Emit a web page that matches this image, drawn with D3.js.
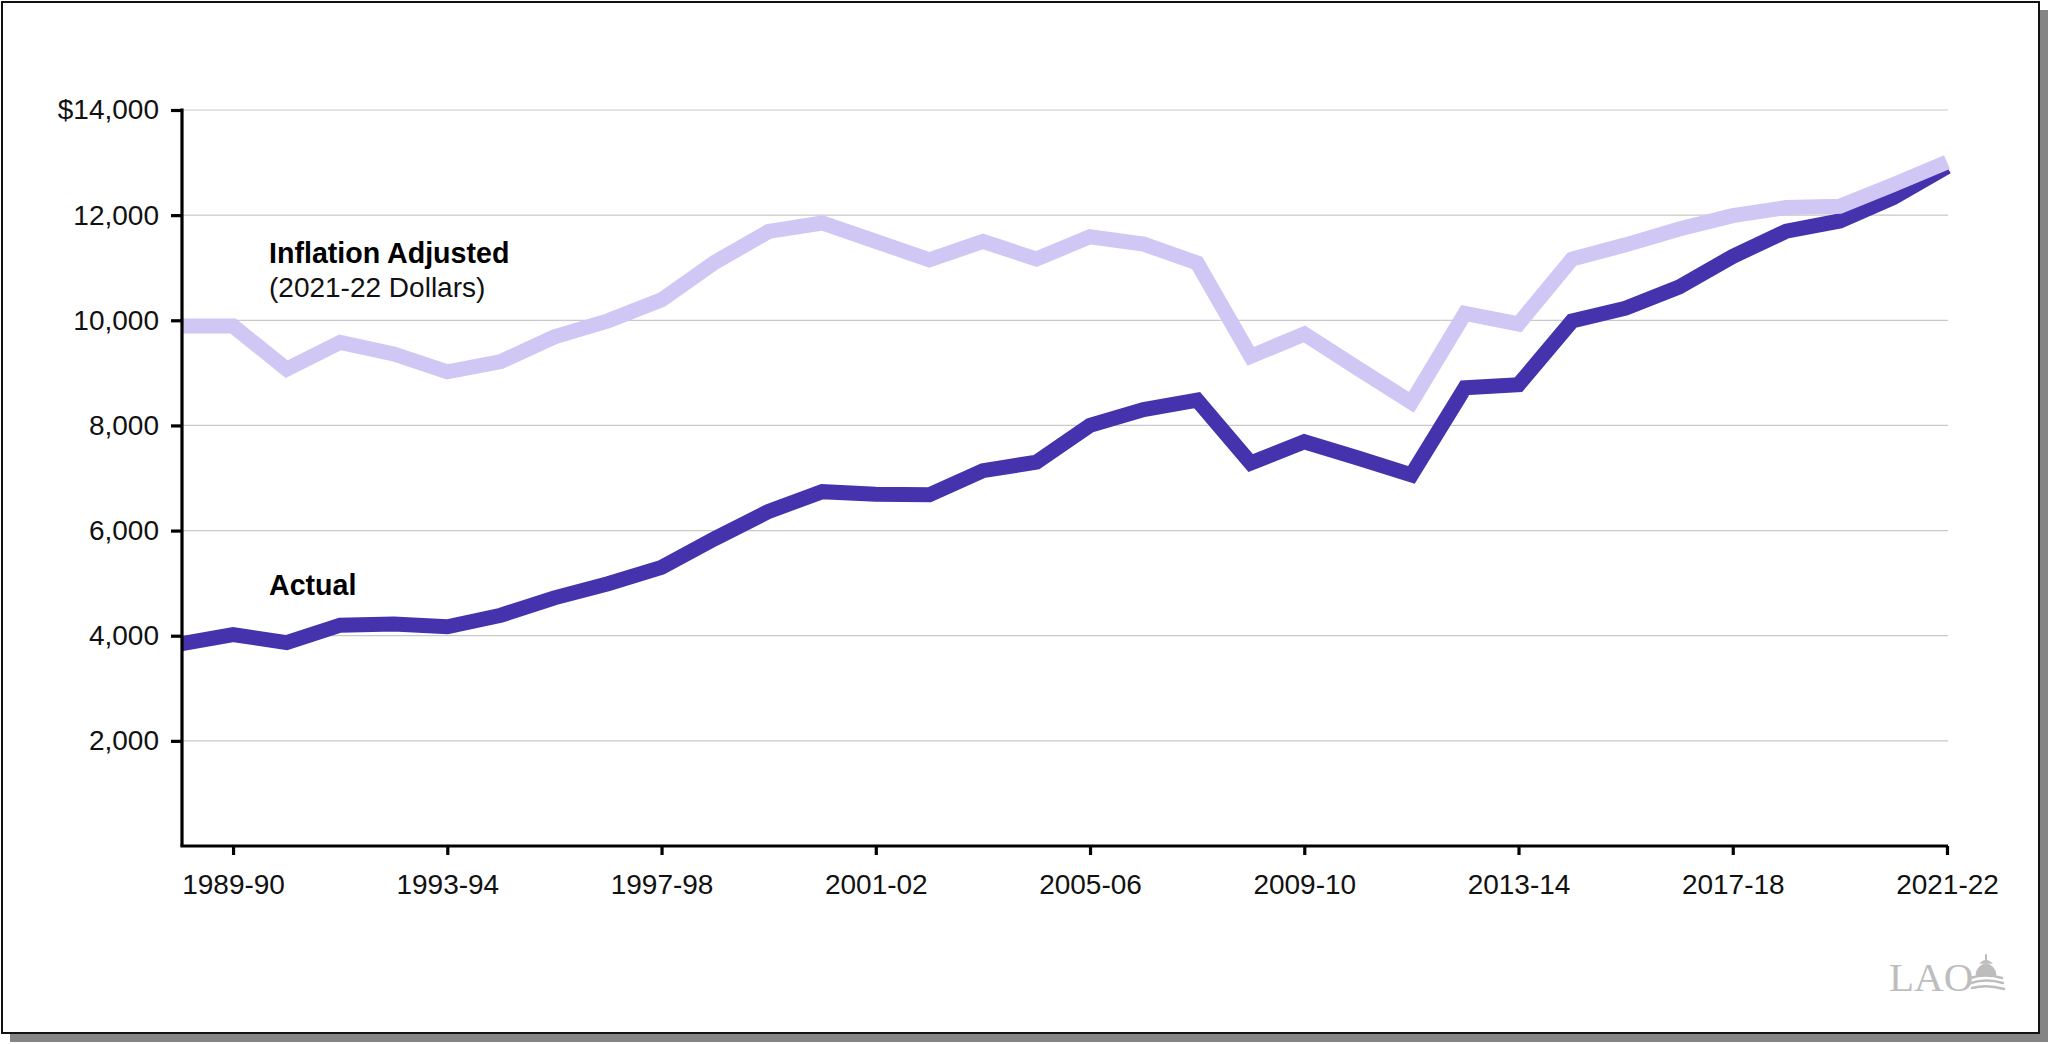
<!DOCTYPE html>
<html>
<head>
<meta charset="utf-8">
<script src="https://cdn.jsdelivr.net/npm/d3@7"></script>
<style>
  html, body { margin: 0; padding: 0; background: #ffffff; }
  svg { display: block; }
  text { font-family: "Liberation Sans", Arial, Helvetica, sans-serif; }
</style>
</head>
<body>
<svg id="chart" width="2049" height="1044"></svg>
<script>
// ---- Data ----
const years = ["1988-89","1989-90","1990-91","1991-92","1992-93","1993-94","1994-95","1995-96",
  "1996-97","1997-98","1998-99","1999-00","2000-01","2001-02","2002-03","2003-04","2004-05",
  "2005-06","2006-07","2007-08","2008-09","2009-10","2010-11","2011-12","2012-13","2013-14",
  "2014-15","2015-16","2016-17","2017-18","2018-19","2019-20","2020-21","2021-22"];

const actual = [3840, 4020, 3870, 4200, 4225, 4170, 4390, 4720, 4990, 5300, 5850, 6365, 6740,
  6690, 6680, 7140, 7300, 8000, 8300, 8480, 7285, 7690, 7380, 7060, 8715, 8775, 9985, 10230,
  10635, 11215, 11695, 11890, 12335, 12920];

const inflationAdjusted = [9890, 9890, 9070, 9580, 9360, 9020, 9215, 9685, 9990, 10390, 11105,
  11690, 11850, 11500, 11150, 11500, 11165, 11590, 11450, 11090, 9315, 9740, 9085, 8440, 10130,
  9930, 11165, 11435, 11735, 11990, 12145, 12170, 12580, 13010];

const xTickLabels = ["1989-90","1993-94","1997-98","2001-02","2005-06","2009-10","2013-14","2017-18","2021-22"];
const yTickValues = [2000, 4000, 6000, 8000, 10000, 12000, 14000];

const seriesLabels = { inflation: "Inflation Adjusted", inflationSub: "(2021-22 Dollars)", actual: "Actual" };

// ---- Layout ----
const svg = d3.select("#chart");
const colorDark = "#4532ad";
const colorLight = "#d1c7f5";

// frame with shadow
svg.append("rect").attr("x", 10).attr("y", 10).attr("width", 2038).attr("height", 1032).attr("fill", "#858585");
svg.append("rect").attr("x", 2).attr("y", 2).attr("width", 2037).attr("height", 1031)
  .attr("fill", "#ffffff").attr("stroke", "#111").attr("stroke-width", 2);

const x = d3.scaleLinear().domain([0, years.length - 1]).range([179.5, 1947]);
const y = d3.scaleLinear().domain([0, 14000]).range([846, 110]);
const axisX0 = 182;

// gridlines
svg.append("g").selectAll("line").data(yTickValues).join("line")
  .attr("x1", axisX0).attr("x2", 1948)
  .attr("y1", d => y(d)).attr("y2", d => y(d))
  .attr("stroke", "#c9c9c9").attr("stroke-width", 1.2);

// clip so lines start at the axis
svg.append("clipPath").attr("id", "plotclip").append("rect")
  .attr("x", axisX0).attr("y", 60).attr("width", 1800).attr("height", 800);

const line = d3.line().x((d, i) => x(i)).y(d => y(d));
const g = svg.append("g").attr("clip-path", "url(#plotclip)");
g.append("path").datum(actual).attr("d", line)
  .attr("fill", "none").attr("stroke", colorDark).attr("stroke-width", 15)
  .attr("stroke-linejoin", "miter").attr("stroke-miterlimit", 3).attr("stroke-linecap", "butt");
g.append("path").datum(inflationAdjusted).attr("d", line)
  .attr("fill", "none").attr("stroke", colorLight).attr("stroke-width", 15)
  .attr("stroke-linejoin", "miter").attr("stroke-miterlimit", 3).attr("stroke-linecap", "butt");

// y axis
const yAxis = d3.axisLeft(y).tickValues(yTickValues).tickSizeInner(11).tickSizeOuter(0).tickPadding(12)
  .tickFormat(d => (d === 14000 ? "$" : "") + d3.format(",")(d));
const gy = svg.append("g").attr("transform", `translate(${axisX0},0)`).call(yAxis);
gy.select(".domain").attr("stroke", "#000").attr("stroke-width", 3.2).attr("d", `M0,${y(14000) - 1.5}V${y(0)}`);
gy.selectAll(".tick line").attr("stroke", "#000").attr("stroke-width", 3.2);
gy.selectAll(".tick text").attr("font-size", 28).attr("fill", "#111").attr("dy", "0.32em")
  .style("font-family", "'Liberation Sans', Arial, sans-serif");

// x axis
const xTickIdx = xTickLabels.map(l => years.indexOf(l));
const xAxis = d3.axisBottom(x).tickValues(xTickIdx).tickSizeInner(9).tickSizeOuter(0).tickPadding(19)
  .tickFormat(i => years[i]);
const gx = svg.append("g").attr("transform", `translate(0,${y(0)})`).call(xAxis);
gx.select(".domain").attr("stroke", "#000").attr("stroke-width", 3.2).attr("d", `M${axisX0 - 1.6},0H${x(years.length - 1) + 1}`);
gx.selectAll(".tick line").attr("stroke", "#000").attr("stroke-width", 3.2);
gx.selectAll(".tick text").attr("font-size", 28).attr("fill", "#111")
  .style("font-family", "'Liberation Sans', Arial, sans-serif");

// series labels
svg.append("text").attr("x", 269).attr("y", 263).attr("font-size", 28.6).attr("font-weight", "bold")
  .attr("fill", "#000").text(seriesLabels.inflation);
svg.append("text").attr("x", 269).attr("y", 297).attr("font-size", 28).attr("fill", "#111")
  .text(seriesLabels.inflationSub);
svg.append("text").attr("x", 269).attr("y", 595).attr("font-size", 28.6).attr("font-weight", "bold")
  .attr("fill", "#000").text(seriesLabels.actual);

// LAO logo
svg.append("text").attr("x", 1889).attr("y", 991).attr("font-size", 41)
  .style("font-family", "'Liberation Serif', 'Times New Roman', serif").attr("fill", "#bdbdbd").text("LAO");
const dome = svg.append("g").attr("fill", "none").attr("stroke", "#bdbdbd").attr("stroke-linecap", "round");
dome.append("line").attr("x1", 1986).attr("x2", 1986).attr("y1", 955).attr("y2", 962).attr("stroke-width", 2);
dome.append("path").attr("d", "M1981,963 Q1986,958 1991,963 Z").attr("fill", "#bdbdbd").attr("stroke-width", 1.5);
dome.append("path").attr("d", "M1976,975 Q1977,965 1986,964 Q1995,965 1996,975 Z").attr("fill", "#bdbdbd").attr("stroke-width", 1);
dome.append("path").attr("d", "M1970,978 Q1986,973 2002,978").attr("stroke-width", 2.5);
dome.append("path").attr("d", "M1971,983 Q1986,978 2003,983").attr("stroke-width", 2.5);
dome.append("path").attr("d", "M1972,988 Q1987,984 2004,989").attr("stroke-width", 2.5);
</script>
</body>
</html>
